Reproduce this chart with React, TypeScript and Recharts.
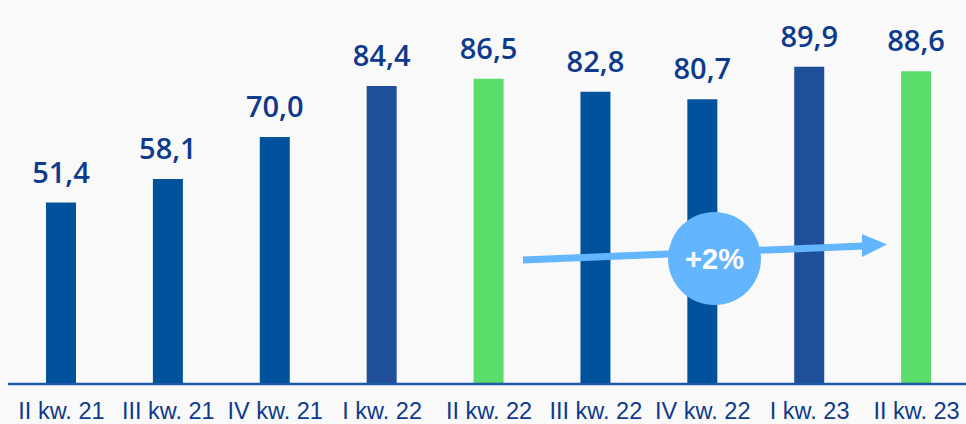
import { BarChart, Bar, XAxis, YAxis, Cell, LabelList } from "recharts";

const quarters = [
  "II kw. 21",
  "III kw. 21",
  "IV kw. 21",
  "I kw. 22",
  "II kw. 22",
  "III kw. 22",
  "IV kw. 22",
  "I kw. 23",
  "II kw. 23",
];
const values = [51.4, 58.1, 70.0, 84.4, 86.5, 82.8, 80.7, 89.9, 88.6];
const barColors = [
  "#00529c",
  "#00529c",
  "#00529c",
  "#1f4f99",
  "#5bdd6b",
  "#00529c",
  "#00529c",
  "#1f4f99",
  "#5bdd6b",
];
const growthLabel = "+2%";

const data = quarters.map((q, i) => ({ q, value: values[i] }));

const fmt = (v: any) => Number(v).toFixed(1).replace(".", ",");

function QuarterTick(props: any) {
  const { x, y, payload } = props;
  return (
    <text
      x={x}
      y={y + 27}
      textAnchor="middle"
      fill="#0d3a8c"
      fontSize={23.5}
      fontFamily="'Liberation Sans', Arial, sans-serif"
    >
      {payload.value}
    </text>
  );
}

export default function App() {
  return (
    <div
      style={{
        position: "absolute",
        left: 0,
        top: 0,
        width: 966,
        height: 424,
        background: "#f9f9f9",
        overflow: "hidden",
      }}
    >
      <BarChart
        width={970}
        height={424}
        data={data}
        margin={{ top: 31, right: 0, left: 8, bottom: 0 }}
      >
        <XAxis
          dataKey="q"
          height={40}
          tickLine={false}
          axisLine={{ stroke: "#1d5aa6", strokeWidth: 2.5 }}
          tick={<QuarterTick />}
          interval={0}
        />
        <YAxis hide domain={[0, 100]} />
        <Bar dataKey="value" barSize={30} isAnimationActive={false}>
          {data.map((d, i) => (
            <Cell key={d.q} fill={barColors[i]} />
          ))}
          <LabelList
            dataKey="value"
            position="top"
            offset={20}
            formatter={fmt}
            fill="#0d3a8c"
            fontSize={29}
            fontWeight={600}
            fontFamily="'Open Sans', sans-serif"
          />
        </Bar>
      </BarChart>
      <svg
        width={966}
        height={424}
        style={{ position: "absolute", left: 0, top: 0, pointerEvents: "none" }}
      >
        <line x1={523} y1={260} x2={864} y2={246} stroke="#63b5fd" strokeWidth={7} />
        <polygon points="862,234 887,244.5 862,257" fill="#63b5fd" />
        <circle cx={714.5} cy={258.5} r={46.5} fill="#63b5fd" />
        <text
          x={714.5}
          y={269}
          textAnchor="middle"
          fill="#ffffff"
          fontSize={29}
          fontWeight="bold"
          fontFamily="'Liberation Sans', Arial, sans-serif"
        >
          {growthLabel}
        </text>
      </svg>
    </div>
  );
}
